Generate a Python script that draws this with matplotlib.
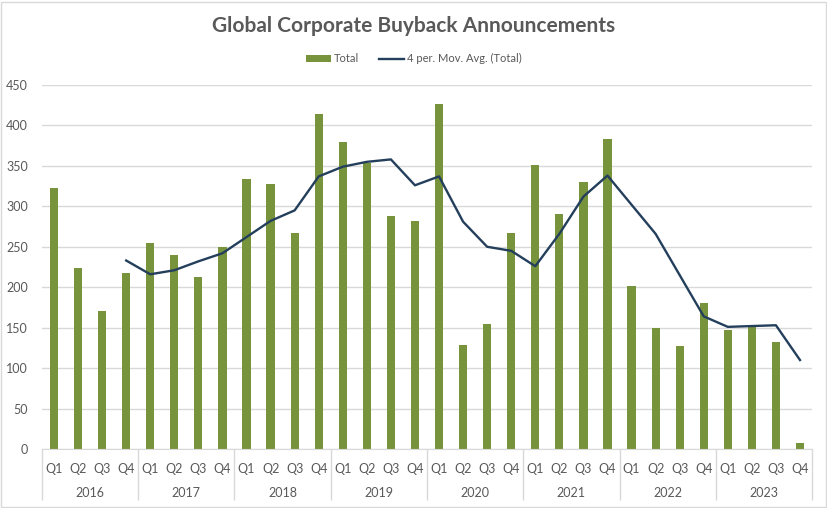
import numpy as np
import matplotlib.pyplot as plt
import matplotlib.transforms as mtransforms
from matplotlib.patches import Rectangle

plt.rcParams['font.family'] = ['Lato', 'DejaVu Sans']

# Data
years = ['2016', '2017', '2018', '2019', '2020', '2021', '2022', '2023']
quarters = ['Q1', 'Q2', 'Q3', 'Q4']
total = [323, 224, 170, 217,
         255, 240, 213, 250,
         334, 328, 267, 414,
         380, 354, 288, 282,
         427, 129, 155, 267,
         351, 290, 330, 383,
         201, 149, 127, 181,
         147, 152, 132, 8]
# 4 period moving average (starts at 2016 Q4)
mov_avg = [np.nan, np.nan, np.nan, 233,
           216, 221, 232, 242,
           262, 282, 295, 337,
           349, 355, 358, 326,
           337, 281, 250, 245,
           226, 266, 312, 338,
           302, 266, 215, 164,
           151, 152, 153, 110]

green = '#77933C'
navy = '#243F5C'
grey_txt = '#595959'
grid_c = '#D9D9D9'

fig = plt.figure(figsize=(8.28, 5.08), dpi=100)
ax = fig.add_axes([0.0507, 0.1161, 0.930, 0.7166])

x = np.arange(len(total))
bars = ax.bar(x, total, width=0.34, color=green, label='Total', zorder=2)
line, = ax.plot(x, mov_avg, color=navy, lw=1.7, label='4 per. Mov. Avg. (Total)', zorder=3)

ax.set_xlim(-0.5, len(total) - 0.5)
ax.set_ylim(0, 450)
ax.set_yticks(np.arange(0, 451, 50))
ax.yaxis.grid(True, color=grid_c, lw=1)
ax.set_axisbelow(True)
ax.tick_params(axis='y', length=0, pad=10, labelsize=9, labelcolor=grey_txt)

for s in ['left', 'right', 'top']:
    ax.spines[s].set_visible(False)
ax.spines['bottom'].set_color(grid_c)

ax.set_xticks(x)
ax.set_xticklabels(quarters * len(years))
ax.tick_params(axis='x', which='major', length=0, pad=10, labelsize=9, labelcolor=grey_txt)
ax.set_xticks(np.arange(-0.5, len(total), 4), minor=True)
ax.tick_params(axis='x', which='minor', length=37, width=1, color=grid_c, direction='out')

trans = mtransforms.blended_transform_factory(ax.transData, ax.transAxes)
for i, yr in enumerate(years):
    ax.text(i * 4 + 1.5, -0.12, yr, transform=trans, ha='center', va='center',
            fontsize=9, color=grey_txt)

fig.suptitle('Global Corporate Buyback Announcements', x=0.5, y=0.968, fontsize=15,
             fontweight='bold', color=grey_txt)

fig.legend(handles=[bars, line], loc='center', bbox_to_anchor=(0.5, 0.884), ncol=2,
           frameon=False, fontsize=8, labelcolor=grey_txt, handlelength=2.2,
           handleheight=0.6, columnspacing=1.8, handletextpad=0.3)

fig.add_artist(Rectangle((0.001, 0.001), 0.996, 0.996, transform=fig.transFigure,
                         fill=False, edgecolor=grid_c, lw=1))

fig.savefig('out.png', dpi=100)
